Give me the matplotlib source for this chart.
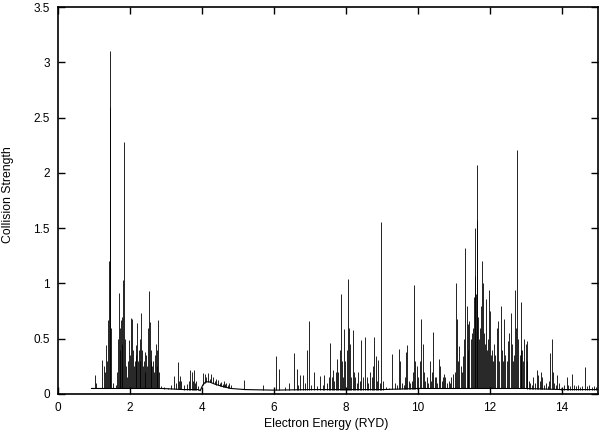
import numpy as np
import matplotlib
matplotlib.use("Agg")
import matplotlib.pyplot as plt
from matplotlib.ticker import FuncFormatter

plt.rcParams['font.family'] = ['Liberation Sans', 'DejaVu Sans']

# Background (non-resonant) collision strength
bg_energy = [0.93, 1.2, 2.0, 2.9, 3.5, 3.9, 3.95, 4.02, 4.1, 4.2, 4.35, 4.55, 4.8,
             5.2, 6.0, 7.0, 8.0, 9.0, 10.0, 11.0, 12.0, 13.0, 14.0, 15.0]
bg_value = [0.05, 0.05, 0.05, 0.05, 0.04, 0.04, 0.03, 0.08, 0.11, 0.11, 0.09, 0.07, 0.05,
            0.04, 0.035, 0.04, 0.04, 0.04, 0.05, 0.05, 0.05, 0.05, 0.04, 0.04]

# Resonance peaks (energy in Ryd, peak collision strength)
res_energy = [
    1.02, 1.06, 1.23, 1.28, 1.31, 1.34, 1.37, 1.39, 1.42, 1.44, 1.45, 1.47, 1.52, 1.60,
    1.64, 1.67, 1.69, 1.71, 1.73, 1.75, 1.77, 1.79, 1.81, 1.83, 1.85, 1.88, 1.92, 1.95,
    1.97, 1.99, 2.02, 2.05, 2.08, 2.10, 2.13, 2.16, 2.18, 2.20, 2.22, 2.25, 2.27, 2.29,
    2.31, 2.34, 2.36, 2.38, 2.41, 2.43, 2.45, 2.48, 2.50, 2.52, 2.55, 2.57, 2.59, 2.62,
    2.65, 2.67, 2.70, 2.72, 2.74, 2.76, 2.78, 2.81, 2.86, 2.95,
    3.05, 3.15, 3.22, 3.28, 3.33, 3.37, 3.40, 3.43, 3.50, 3.58, 3.64, 3.68, 3.72, 3.75,
    3.78, 3.81, 3.84, 3.90, 4.03, 4.07, 4.12, 4.18, 4.21, 4.24, 4.30, 4.35, 4.40, 4.44,
    4.49, 4.54, 4.58, 4.61, 4.65, 4.68, 4.72, 4.75, 4.80, 5.17, 5.70,
    6.06, 6.14, 6.30, 6.43, 6.55, 6.63, 6.68, 6.73, 6.80, 6.85, 6.91, 6.97, 7.03, 7.12,
    7.20, 7.28, 7.35, 7.40, 7.47, 7.52, 7.56, 7.60, 7.63, 7.68, 7.71, 7.74, 7.78, 7.82,
    7.85, 7.88, 7.92, 7.95, 7.98, 8.02, 8.05, 8.08, 8.11, 8.14, 8.19, 8.22, 8.26, 8.30,
    8.34, 8.38,
    8.43, 8.47, 8.53, 8.57, 8.62, 8.67, 8.72, 8.75, 8.78, 8.83, 8.87, 8.90, 8.94, 8.98,
    9.02, 9.10, 9.20, 9.27, 9.36, 9.43, 9.48, 9.51, 9.56, 9.60, 9.64, 9.66, 9.69, 9.74,
    9.78, 9.82, 9.86, 9.90, 9.93, 9.97, 10.01, 10.05, 10.09, 10.13, 10.16, 10.20, 10.24,
    10.28, 10.32, 10.36, 10.40, 10.43, 10.47, 10.50, 10.54, 10.59, 10.62, 10.66, 10.70,
    10.72, 10.75, 10.80, 10.85, 10.90, 10.93, 10.98,
    11.02, 11.06, 11.09, 11.12, 11.15, 11.19, 11.22, 11.26, 11.29, 11.31, 11.35, 11.38,
    11.40, 11.43, 11.46, 11.49, 11.53, 11.55, 11.57, 11.59, 11.61, 11.63, 11.65, 11.67,
    11.70, 11.73, 11.76, 11.78, 11.80, 11.83, 11.86, 11.89, 11.92, 11.95, 11.97, 12.00,
    12.03, 12.06, 12.09, 12.12, 12.15, 12.20, 12.23, 12.26, 12.31, 12.34, 12.37, 12.40,
    12.43, 12.46, 12.51, 12.54, 12.57, 12.60, 12.63, 12.67, 12.70, 12.73, 12.76, 12.79,
    12.82, 12.85, 12.87, 12.90, 12.92, 12.95, 12.99, 13.02, 13.04, 13.08, 13.12,
    13.16, 13.20, 13.25, 13.30, 13.34, 13.38, 13.42, 13.45, 13.50, 13.55, 13.60, 13.64,
    13.67, 13.71, 13.74, 13.78, 13.83, 13.87, 13.92, 13.98, 14.05, 14.13, 14.18, 14.22,
    14.27, 14.32, 14.38, 14.45, 14.50, 14.55, 14.64, 14.70, 14.75, 14.82, 14.88, 14.95,
]
res_peak = [
    0.17, 0.10, 0.31, 0.25, 0.20, 0.44, 0.30, 0.67, 1.20, 3.10, 2.60, 0.60, 0.10, 0.08,
    0.20, 0.50, 0.91, 0.40, 0.60, 0.67, 0.45, 0.70, 1.03, 2.28, 0.50, 0.25, 0.15, 0.30,
    0.49, 0.35, 0.69, 0.68, 0.40, 0.25, 0.30, 0.44, 0.35, 0.64, 0.30, 0.40, 0.50, 0.30,
    0.73, 0.40, 0.25, 0.30, 0.38, 0.20, 0.35, 0.25, 0.60, 0.93, 0.65, 0.30, 0.40, 0.25,
    0.30, 0.20, 0.35, 0.45, 0.25, 0.40, 0.67, 0.20, 0.07, 0.06,
    0.05, 0.08, 0.16, 0.10, 0.29, 0.12, 0.16, 0.12, 0.08, 0.09, 0.12, 0.22, 0.20, 0.12,
    0.22, 0.10, 0.12, 0.07, 0.19, 0.18, 0.15, 0.19, 0.14, 0.18, 0.15, 0.12, 0.14, 0.13,
    0.10, 0.11, 0.09, 0.12, 0.09, 0.10, 0.08, 0.10, 0.08, 0.13, 0.08,
    0.34, 0.23, 0.06, 0.10, 0.37, 0.23, 0.08, 0.17, 0.17, 0.10, 0.40, 0.66, 0.08, 0.20,
    0.07, 0.16, 0.08, 0.17, 0.10, 0.15, 0.46, 0.15, 0.22, 0.12, 0.20, 0.32, 0.20, 0.40,
    0.90, 0.30, 0.15, 0.59, 0.30, 0.40, 1.04, 0.60, 0.45, 0.15, 0.58, 0.20, 0.15, 0.10,
    0.20, 0.12,
    0.49, 0.15, 0.52, 0.15, 0.10, 0.20, 0.15, 0.25, 0.52, 0.34, 0.12, 0.31, 0.10, 1.56,
    0.12, 0.06, 0.05, 0.36, 0.10, 0.08, 0.41, 0.30, 0.10, 0.08, 0.15, 0.38, 0.44, 0.12,
    0.10, 0.12, 0.20, 0.99, 0.30, 0.25, 0.15, 0.30, 0.68, 0.45, 0.20, 0.12, 0.15,
    0.10, 0.30, 0.12, 0.20, 0.56, 0.15, 0.15, 0.10, 0.32, 0.25, 0.12, 0.15,
    0.18, 0.15, 0.10, 0.12, 0.10, 0.15, 0.18,
    0.20, 1.00, 0.68, 0.30, 0.43, 0.25, 0.20, 0.34, 0.50, 1.32, 0.80, 0.40,
    0.63, 0.66, 0.50, 0.55, 0.60, 0.88, 1.07, 1.50, 0.90, 1.57, 2.07, 0.70,
    0.50, 0.60, 0.80, 1.20, 1.00, 0.55, 0.45, 0.86, 0.40, 0.50, 0.94, 0.75,
    0.35, 0.40, 0.30, 0.45, 0.35, 0.60, 0.66, 0.30, 0.80, 0.40, 0.30, 0.68,
    0.35, 0.30, 0.48, 0.55, 0.73, 0.45, 0.30, 0.35, 0.94, 0.60, 2.21, 0.50,
    0.35, 0.40, 0.83, 0.40, 0.30, 0.50, 0.45, 0.30, 0.48, 0.12, 0.10,
    0.08, 0.15, 0.10, 0.22, 0.17, 0.12, 0.20, 0.15, 0.08, 0.10, 0.07, 0.12,
    0.37, 0.50, 0.20, 0.10, 0.08, 0.17, 0.10, 0.05, 0.08, 0.15, 0.08, 0.07,
    0.18, 0.08, 0.07, 0.08, 0.06, 0.07, 0.24, 0.07, 0.08, 0.06, 0.07, 0.06,
]

x_ticks = [0, 2, 4, 6, 8, 10, 12, 14]
y_ticks = [0, 0.5, 1, 1.5, 2, 2.5, 3, 3.5]

fig = plt.figure(figsize=(6.0, 4.32), dpi=100)
ax = fig.add_axes([58/600, 38/432, 540/600, 387/432])

ax.plot(bg_energy, bg_value, color='black', lw=0.8)
res_base = np.interp(res_energy, bg_energy, bg_value)
ax.vlines(res_energy, res_base, res_peak, color='black', lw=0.6)

ax.set_xlim(0, 15)
ax.set_ylim(0, 3.5)
ax.set_xticks(x_ticks)
ax.set_yticks(y_ticks)
ax.yaxis.set_major_formatter(FuncFormatter(lambda v, p: f"{v:g}"))
ax.tick_params(direction='in', length=5, width=1, top=True, right=True,
               labelsize=8.5, pad=6)
for s in ax.spines.values():
    s.set_linewidth(1.2)

fig.text(326/600, 8/432, "Electron Energy (RYD)", ha='center', va='center', fontsize=8.8)
fig.text(8/600, 237/432, "Collision Strength", ha='center', va='center',
         rotation=90, fontsize=8.8)

fig.savefig("out.png", dpi=100)
